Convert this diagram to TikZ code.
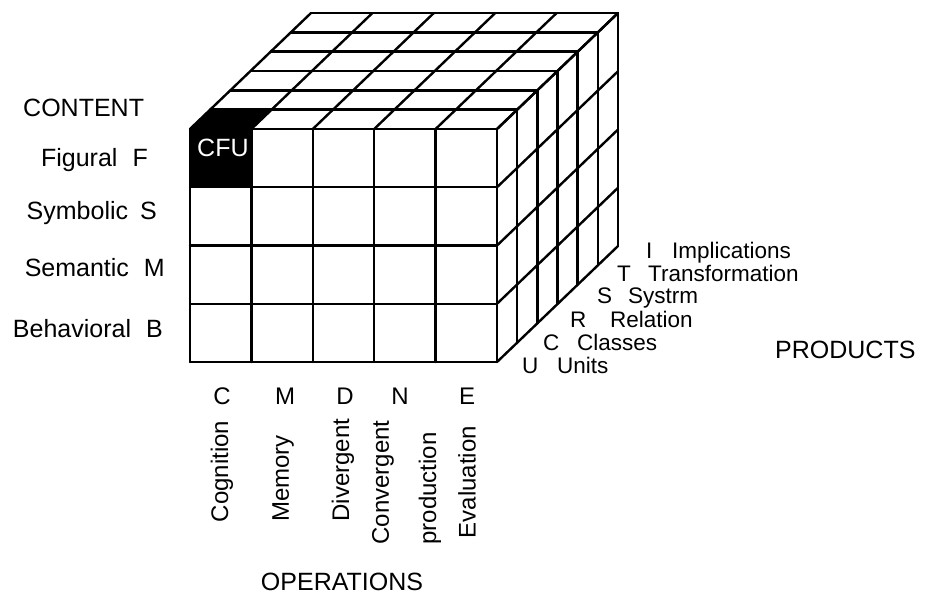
\documentclass[tikz,border=0pt]{standalone}
\usepackage{fontspec}
\setmainfont{Liberation Sans}
\begin{document}
\begin{tikzpicture}[x=1pt,y=-1pt,
  gridline/.style={line width=2.4pt,line cap=round,line join=round},
  biglabel/.style={inner sep=0pt,font=\fontsize{25}{28}\selectfont},
  oplabel/.style={inner sep=0pt,font=\fontsize{24}{28}\selectfont},
  prodlabel/.style={inner sep=0pt,font=\fontsize{22.5}{26}\selectfont}]
\useasboundingbox[fill=white] (0,0) rectangle (926,596);
\def\X{190}\def\Y{129}\def\W{61.4}\def\H{58.25}\def\DX{20.17}\def\DY{-19.33}
% black CFU cube faces
\fill[black] (\X,\Y) rectangle ({\X+\W},{\Y+\H});
\fill[black] (\X,\Y) -- ({\X+\W},\Y) -- ({\X+\W+\DX},{\Y+\DY}) -- ({\X+\DX},{\Y+\DY}) -- cycle;
% front face
\foreach \i in {0,...,5} \draw[gridline] ({\X+\i*\W},\Y) -- ({\X+\i*\W},{\Y+4*\H});
\foreach \j in {0,...,4} \draw[gridline] (\X,{\Y+\j*\H}) -- ({\X+5*\W},{\Y+\j*\H});
% top face
\foreach \i in {0,...,5} \draw[gridline] ({\X+\i*\W},\Y) -- ({\X+\i*\W+6*\DX},{\Y+6*(\DY)});
\foreach \k in {0,...,6} \draw[gridline] ({\X+\k*\DX},{\Y+\k*(\DY)}) -- ({\X+5*\W+\k*\DX},{\Y+\k*(\DY)});
% right face
\foreach \k in {0,...,6} \draw[gridline] ({\X+5*\W+\k*\DX},{\Y+\k*(\DY)}) -- ({\X+5*\W+\k*\DX},{\Y+4*\H+\k*(\DY)});
\foreach \j in {0,...,4} \draw[gridline] ({\X+5*\W},{\Y+\j*\H}) -- ({\X+5*\W+6*\DX},{\Y+\j*\H+6*(\DY)});
% CFU
\node[biglabel,text=white,anchor=base west] (cfu) at (197,157) {CFU};
% content
\node[biglabel,anchor=base west] (content) at (23,117) {CONTENT};
\node[biglabel,anchor=base east] (fig) at (148,167) {Figural\hspace{15pt}F};
\node[biglabel,anchor=base east] (sym) at (157,219) {Symbolic\hspace{12pt}S};
\node[biglabel,anchor=base east] (sem) at (165,276) {Semantic\hspace{15pt}M};
\node[biglabel,anchor=base east] (beh) at (163,337) {Behavioral\hspace{15pt}B};
% operations
\node[oplabel,anchor=base] (opC) at (222,404) {C};
\node[oplabel,anchor=base] (opM) at (285,404) {M};
\node[oplabel,anchor=base] (opD) at (345,404) {D};
\node[oplabel,anchor=base] (opN) at (400,404) {N};
\node[oplabel,anchor=base] (opE) at (467,404) {E};
\node[oplabel,rotate=90] (cog) at (222,471.5) {Cognition};
\node[oplabel,rotate=90] (mem) at (283,478.5) {Memory};
\node[oplabel,rotate=90] (div) at (343,470) {Divergent};
\node[oplabel,rotate=90] (conv) at (383,482.5) {Convergent};
\node[oplabel,rotate=90] (prodn) at (430,488.5) {production};
\node[oplabel,rotate=90] (eval) at (467,482) {Evaluation};
\node[biglabel,anchor=base] (operations) at (342,590) {OPERATIONS};
% products
\node[prodlabel,anchor=base west] (pI) at (646,258) {I};
\node[prodlabel,anchor=base west] (pIw) at (672,258) {Implications};
\node[prodlabel,anchor=base west] (pT) at (617,281) {T};
\node[prodlabel,anchor=base west] (pTw) at (648,281) {Transformation};
\node[prodlabel,anchor=base west] (pS) at (597,303) {S};
\node[prodlabel,anchor=base west] (pSw) at (628,303) {Systrm};
\node[prodlabel,anchor=base west] (pR) at (570,327) {R};
\node[prodlabel,anchor=base west] (pRw) at (610,327) {Relation};
\node[prodlabel,anchor=base west] (pC) at (543,350) {C};
\node[prodlabel,anchor=base west] (pCw) at (577,350) {Classes};
\node[prodlabel,anchor=base west] (pU) at (522,373) {U};
\node[prodlabel,anchor=base west] (pUw) at (557,373) {Units};
\node[biglabel,anchor=base west] (products) at (775,358) {PRODUCTS};
\end{tikzpicture}
\end{document}
